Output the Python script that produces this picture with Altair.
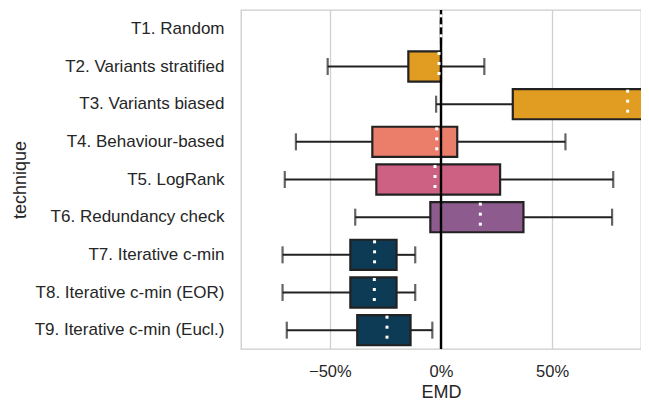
import altair as alt
import pandas as pd

techniques = [
    "T1. Random",
    "T2. Variants stratified",
    "T3. Variants biased",
    "T4. Behaviour-based",
    "T5. LogRank",
    "T6. Redundancy check",
    "T7. Iterative c-min",
    "T8. Iterative c-min (EOR)",
    "T9. Iterative c-min (Eucl.)",
]
whisker_low = [0.0, -0.510, -0.022, -0.653, -0.703, -0.386, -0.713, -0.713, -0.694]
q1 = [0.0, -0.147, 0.323, -0.309, -0.291, -0.048, -0.408, -0.408, -0.377]
median = [0.0, -0.009, 0.840, -0.019, -0.027, 0.177, -0.299, -0.300, -0.243]
q3 = [0.0, 0.0, 1.100, 0.073, 0.266, 0.371, -0.200, -0.200, -0.137]
whisker_high = [0.0, 0.195, 1.500, 0.560, 0.775, 0.770, -0.116, -0.116, -0.039]
colors = ["#e09d22", "#e09d22", "#e09d22", "#eb7d6b", "#cc6183",
          "#8d5b8d", "#0d3a55", "#0d3a55", "#0d3a55"]
x_ticks = [-0.5, 0.0, 0.5]
zero_line = [0.0]

df = pd.DataFrame({
    "technique": techniques,
    "lo": whisker_low,
    "q1": q1,
    "med": median,
    "q3": q3,
    "hi": whisker_high,
})

FONT = "Liberation Sans"
TXT = "#262626"
EDGE = "#222222"

xscale = alt.Scale(domain=[-0.9, 0.9], nice=False, zero=False)
xaxis = alt.Axis(values=x_ticks, format=".0%", grid=True, gridColor="#d0d0d0",
                 gridWidth=1.3, domain=False, ticks=False, tickSize=0,
                 labelFontSize=16.5, labelColor=TXT, labelPadding=14, labelFont=FONT,
                 titleFontSize=18, titleColor=TXT, titleFontWeight="normal",
                 titlePadding=4, titleFont=FONT)
yscale = alt.Scale(domain=techniques, paddingInner=0, paddingOuter=0)
yaxis = alt.Axis(grid=False, domain=False, ticks=False, tickSize=0,
                 labelFontSize=17, labelColor=TXT, labelPadding=17, labelLimit=400,
                 labelFont=FONT, titleFontSize=18, titleColor=TXT,
                 titleFontWeight="normal", titlePadding=12, titleFont=FONT)

Y = alt.Y("technique:N", sort=techniques, scale=yscale, axis=yaxis, title="technique")

def X(field):
    return alt.X(f"{field}:Q", scale=xscale, axis=xaxis, title="EMD")

base = alt.Chart(df)

whisk_l = base.mark_rule(color=EDGE, strokeWidth=2, clip=True).encode(
    x=X("lo"), x2="q1:Q", y=Y)
whisk_r = base.mark_rule(color=EDGE, strokeWidth=2, clip=True).encode(
    x=X("q3"), x2="hi:Q", y=Y)
cap_l = base.mark_tick(color=EDGE, thickness=2.2, size=17, clip=True).encode(x=X("lo"), y=Y)
cap_r = base.mark_tick(color=EDGE, thickness=2.2, size=17, clip=True).encode(x=X("hi"), y=Y)

boxes = base.mark_bar(height=alt.RelativeBandSize(0.8), stroke=EDGE, strokeWidth=2.2,
                      clip=True, opacity=1).encode(
    x=X("q1"), x2="q3:Q", y=Y,
    color=alt.Color("technique:N", scale=alt.Scale(domain=techniques, range=colors),
                    legend=None),
)

zero = alt.Chart(pd.DataFrame({"z": zero_line})).mark_rule(
    color="black", strokeWidth=2.4).encode(x=X("z"))

dots = [
    base.mark_square(size=9, color="white", opacity=1, yOffset=k, clip=True).encode(
        x=X("med"), y=Y)
    for k in (-13, -3, 7)
]

chart = alt.layer(whisk_l, whisk_r, cap_l, cap_r, boxes, zero, *dots).properties(
    width=400, height=339,
    padding={"left": 3, "top": 0, "right": 0, "bottom": 0},
    background="white",
).configure_view(stroke="#cccccc", strokeWidth=1.3)

chart.save("out.html", embed_options={"renderer": "svg", "actions": False})
